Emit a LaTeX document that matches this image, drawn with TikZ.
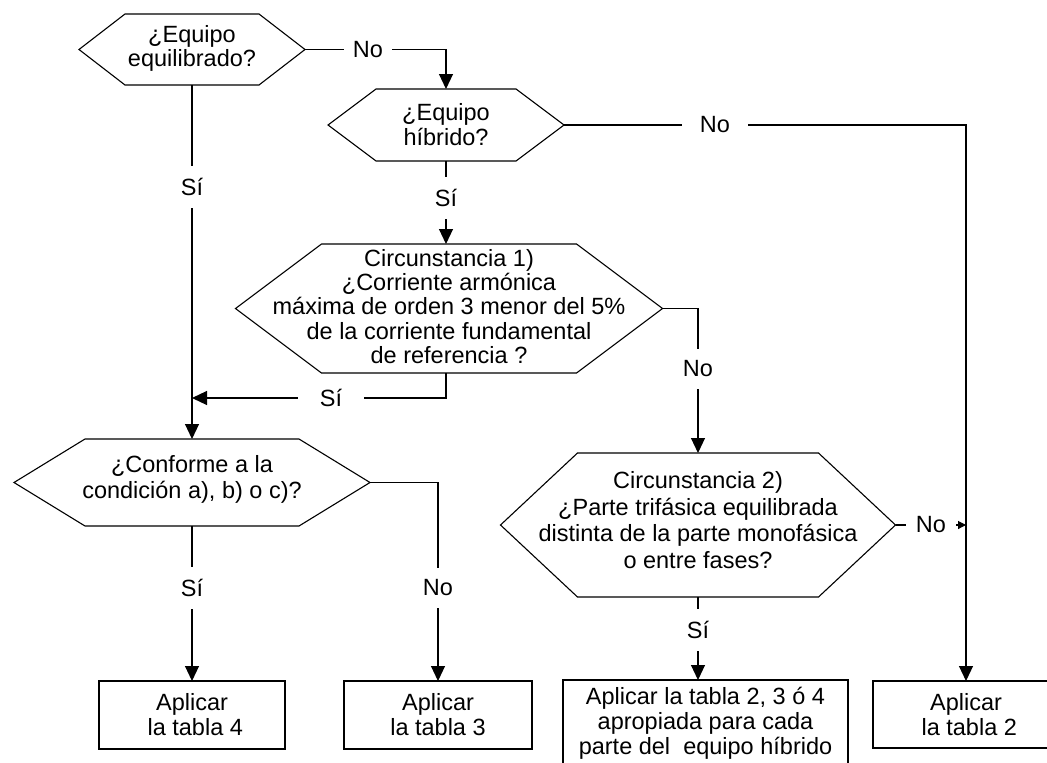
\documentclass[tikz,border=0pt]{standalone}
\usepackage{fontspec}
\setmainfont{Liberation Sans}
\usetikzlibrary{arrows.meta}
\newcommand{\hexdraw}[2]{\draw[shapeline] (#1.west) -- ([xshift=#2pt]#1.north west) -- ([xshift=-#2pt]#1.north east) -- (#1.east) -- ([xshift=-#2pt]#1.south east) -- ([xshift=#2pt]#1.south west) -- cycle;}
\begin{document}
\begin{tikzpicture}[x=1pt,y=-1pt,
  txt/.style={font=\fontsize{23.5}{25}\selectfont},
  hexshape/.style={inner sep=0pt, outer sep=0pt},
  hextext/.style={txt, align=center, inner sep=0pt},
  boxnode/.style={txt, draw, line width=1.1pt, align=center, inner sep=0pt, outer sep=0pt},
  shapeline/.style={line width=1.1pt},
  conn/.style={line width=1.1pt, -{Triangle[length=15pt,width=14pt]}},
  smallconn/.style={line width=1.1pt, -{Triangle[length=8pt,width=8pt]}},
  lbl/.style={txt, fill=white, inner xsep=9pt, inner ysep=12pt},
]
\useasboundingbox (0,0) rectangle (1047,763);

% decision shapes
\node[hexshape, minimum width=226, minimum height=71] (h1) at (192,49.5) {};
\node[hexshape, minimum width=236, minimum height=72] (h2) at (446,125) {};
\node[hexshape, minimum width=427, minimum height=129] (h3) at (449,308.5) {};
\node[hexshape, minimum width=395, minimum height=144] (h4) at (698,525) {};
\node[hexshape, minimum width=356, minimum height=87] (h5) at (192,482.5) {};
\hexdraw{h1}{46}
\hexdraw{h2}{48}
\hexdraw{h3}{86}
\hexdraw{h4}{77}
\hexdraw{h5}{71}

% decision texts
\node[hextext, font=\fontsize{23.5}{24}\selectfont] (h1t) at ([yshift=1pt]h1.center) {¿Equipo\\equilibrado?};
\node[hextext] (h2t) at (h2.center) {¿Equipo\\híbrido?};
\node[hextext, font=\fontsize{23.5}{24.2}\selectfont] (h3t) at ([yshift=2pt]h3.center) {Circunstancia 1)\\¿Corriente armónica\\máxima de orden 3 menor del 5\%\\de la corriente fundamental\\de referencia ?};
\node[hextext, font=\fontsize{23.5}{26.5}\selectfont] (h4t) at ([yshift=5pt]h4.center) {Circunstancia 2)\\¿Parte trifásica equilibrada\\distinta de la parte monofásica\\o entre fases?};
\node[hextext, font=\fontsize{23.5}{26}\selectfont] (h5t) at ([yshift=3pt]h5.center) {¿Conforme a la\\condición a), b) o c)?};

% result boxes
\node[boxnode, minimum width=186, minimum height=68] (b4) at (192,715) {Aplicar\\\mbox{}\ la tabla 4};
\node[boxnode, minimum width=188, minimum height=68] (b3) at (438,715) {Aplicar\\la tabla 3};
\node[boxnode, minimum width=285, minimum height=86] (b2) at (705.5,723) {Aplicar la tabla 2, 3 ó 4\\apropiada para cada\\parte del\ \ equipo híbrido};
\node[boxnode, minimum width=186, minimum height=67] (b1) at (966,714.5) {Aplicar\\\mbox{}\ la tabla 2};

\coordinate (j) at (192,398);

% connectors
\draw[conn] (h1.east) -| (h2.north);
\draw[conn] (h1.south) -- (h5.north);
\draw[conn] (h2.east) -| (b1.north);
\draw[conn] (h2.south) -- (h2.south |- h3.north);
\draw[conn] (h3.east) -| (h4.north);
\draw[conn] (h3.south -| h2.south) |- (j);
\draw[smallconn] (h4.east) -- (h4.east -| b1.north);
\draw[conn] (h4.south) -- (h4.south |- b2.north);
\draw[conn] (h5.south) -- (b4.north);
\draw[conn] (h5.east) -| (b3.north);

% labels
\node[lbl] (l1) at (368,49.5) {No};
\node[lbl] (l2) at (192,187) {Sí};
\node[lbl, inner xsep=18pt] (l3) at (715,125) {No};
\node[lbl] (l4) at (446,198) {Sí};
\node[lbl] (l5) at (698,369) {No};
\node[lbl, inner xsep=22pt] (l6) at (331,398) {Sí};
\node[lbl, inner xsep=10pt] (l7) at (931,525) {No};
\node[lbl] (l8) at (698,630) {Sí};
\node[lbl] (l9) at (192,588) {Sí};
\node[lbl] (l10) at (438,588) {No};
\end{tikzpicture}
\end{document}
